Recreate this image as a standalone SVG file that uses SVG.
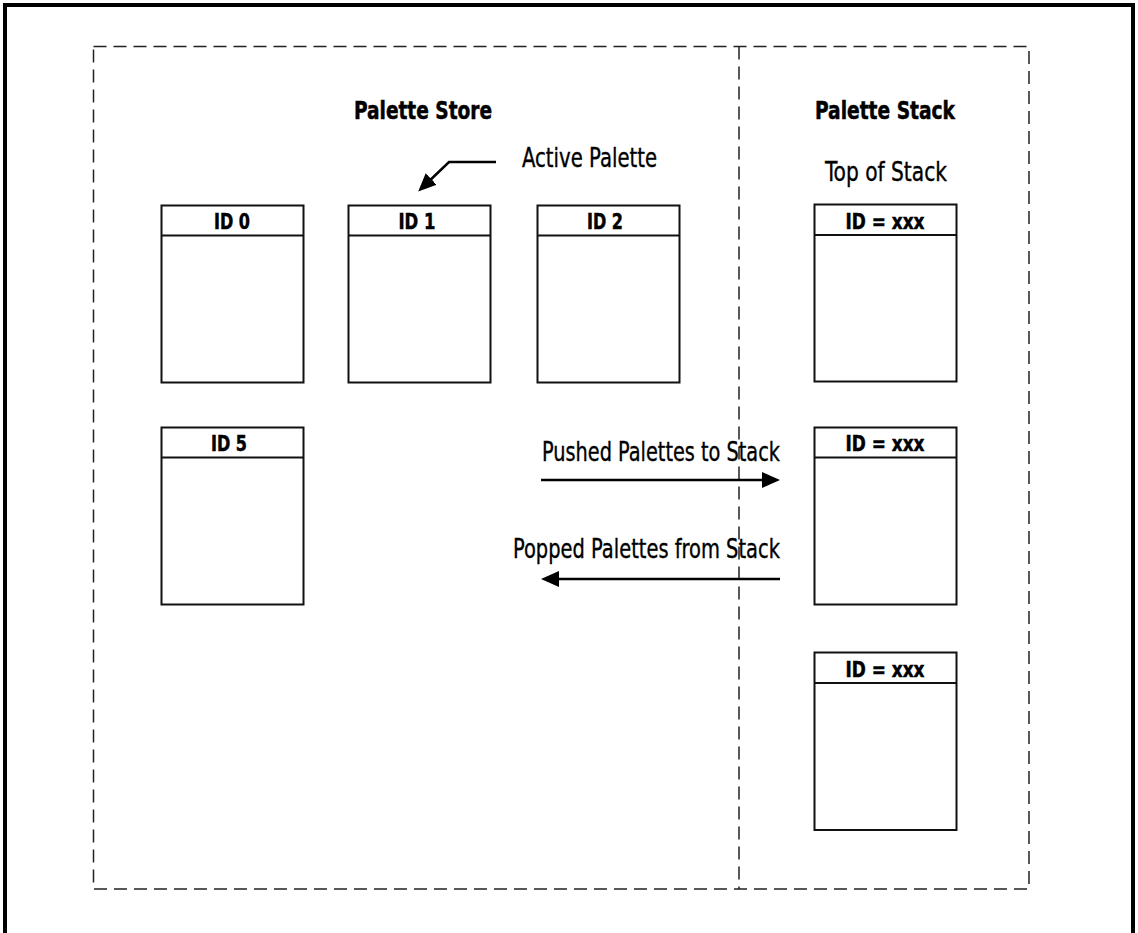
<svg xmlns="http://www.w3.org/2000/svg" width="1138" height="933" viewBox="0 0 1138 933">
<style>
text{font-family:"Liberation Sans Narrow","DejaVu Sans Condensed","Liberation Sans",sans-serif;fill:#000;stroke:#000}
.h{font-weight:bold;font-size:25px;text-anchor:middle;stroke-width:0.5}
.id{font-weight:bold;font-size:22px;text-anchor:middle;stroke-width:0.5}
.r{font-size:27px;stroke-width:0.35}
.box{fill:#fff;stroke:#111;stroke-width:2}
.dash{fill:none;stroke:#222;stroke-width:1.5;stroke-dasharray:13 7}
.conn{fill:none;stroke:#000;stroke-width:2.5}
</style>
<defs>
<marker id="ah" markerUnits="userSpaceOnUse" markerWidth="20" markerHeight="18" refX="10" refY="8" orient="auto">
<path d="M0,0 L18,8 L0,16 z" fill="#000"/>
</marker>
</defs>
<rect width="1138" height="933" fill="#fff"/>
<g id="frame">
<path d="M5,933 V5 H1133 V933" fill="none" stroke="#000" stroke-width="4"/>
<rect class="dash" x="93.5" y="46.5" width="935.5" height="842.5"/>
<line class="dash" x1="739" y1="46.5" x2="739" y2="889"/>
</g>
<g id="titles">
<text class="h" x="423" y="119" textLength="138" lengthAdjust="spacingAndGlyphs">Palette Store</text>
<text class="h" x="885" y="119" textLength="140" lengthAdjust="spacingAndGlyphs">Palette Stack</text>
<text class="r" x="522" y="167" textLength="135" lengthAdjust="spacingAndGlyphs">Active Palette</text>
<text class="r" x="825" y="181" textLength="122" lengthAdjust="spacingAndGlyphs">Top of Stack</text>
<text class="r" x="542" y="461" textLength="238" lengthAdjust="spacingAndGlyphs">Pushed Palettes to Stack</text>
<text class="r" x="513" y="558" textLength="267" lengthAdjust="spacingAndGlyphs">Popped Palettes from Stack</text>
</g>
<g id="id0">
<rect class="box" x="161.5" y="205.5" width="142" height="177"/>
<line class="box" x1="161.5" y1="235.5" x2="303.5" y2="235.5"/>
<text class="id" x="232" y="228.5" textLength="36" lengthAdjust="spacingAndGlyphs">ID 0</text>
</g>
<g id="id1">
<rect class="box" x="348.5" y="205.5" width="142" height="177"/>
<line class="box" x1="348.5" y1="235.5" x2="490.5" y2="235.5"/>
<text class="id" x="417" y="228.5" textLength="37" lengthAdjust="spacingAndGlyphs">ID 1</text>
</g>
<g id="id2">
<rect class="box" x="537.5" y="205.5" width="142" height="177"/>
<line class="box" x1="537.5" y1="235.5" x2="679.5" y2="235.5"/>
<text class="id" x="605" y="228.5" textLength="36" lengthAdjust="spacingAndGlyphs">ID 2</text>
</g>
<g id="id5">
<rect class="box" x="161.5" y="427.5" width="142" height="177"/>
<line class="box" x1="161.5" y1="457.5" x2="303.5" y2="457.5"/>
<text class="id" x="229" y="450.5" textLength="36" lengthAdjust="spacingAndGlyphs">ID 5</text>
</g>
<g id="stack1">
<rect class="box" x="814.5" y="204.5" width="142" height="177"/>
<line class="box" x1="814.5" y1="235" x2="956.5" y2="235"/>
<text class="id" x="885" y="228.5" textLength="79" lengthAdjust="spacingAndGlyphs">ID = xxx</text>
</g>
<g id="stack2">
<rect class="box" x="814.5" y="427.5" width="142" height="177"/>
<line class="box" x1="814.5" y1="457.5" x2="956.5" y2="457.5"/>
<text class="id" x="885" y="450.5" textLength="79" lengthAdjust="spacingAndGlyphs">ID = xxx</text>
</g>
<g id="stack3">
<rect class="box" x="814.5" y="652.5" width="142" height="177.5"/>
<line class="box" x1="814.5" y1="683" x2="956.5" y2="683"/>
<text class="id" x="885" y="676.5" textLength="79" lengthAdjust="spacingAndGlyphs">ID = xxx</text>
</g>
<g id="connectors">
<line class="conn" x1="541" y1="480" x2="772" y2="480" marker-end="url(#ah)"/>
<line class="conn" x1="780" y1="579" x2="549" y2="579" marker-end="url(#ah)"/>
<polyline class="conn" points="496,162 449,162 424,186" marker-end="url(#ah)"/>
</g>
</svg>
